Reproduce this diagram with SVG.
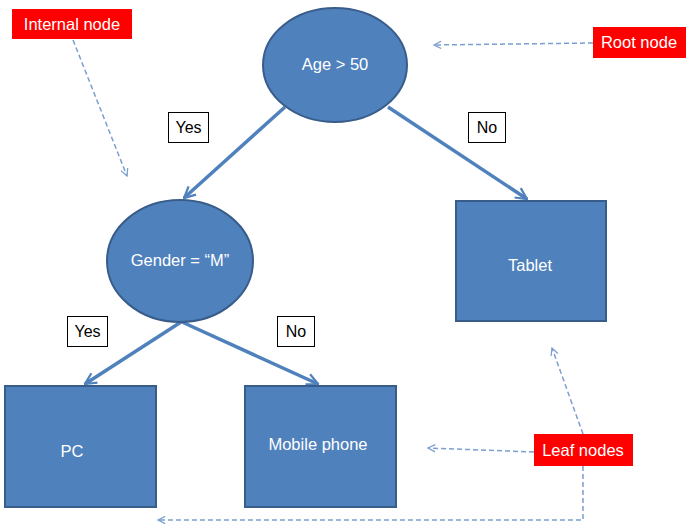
<svg xmlns="http://www.w3.org/2000/svg" width="689" height="528" viewBox="0 0 689 528">
<style>
.node{fill:#4f81bd;stroke:#385d8a;stroke-width:2}
.nt{font-family:"Liberation Sans",Arial,sans-serif;font-size:16.5px;fill:#ffffff;text-anchor:middle}
.lbl{fill:#ffffff;stroke:#000000;stroke-width:1}
.lt{font-family:"Liberation Sans",Arial,sans-serif;font-size:16px;fill:#000000;text-anchor:middle}
.red{fill:#ff0000}
.rt{font-family:"Liberation Sans",Arial,sans-serif;font-size:16.5px;fill:#ffffff;text-anchor:middle}
.edge{fill:none;stroke:#4f81bd;stroke-width:3.5}
.dash{fill:none;stroke:#7b9fcf;stroke-width:1.5;stroke-dasharray:5,3}
</style>
<defs>
<marker id="ah" viewBox="0 0 10 10" refX="9" refY="5" markerWidth="4" markerHeight="4" orient="auto" markerUnits="strokeWidth">
<path d="M1,1 L9,5 L1,9" fill="none" stroke="#4f81bd" stroke-width="1.6"/>
</marker>
<marker id="dh" viewBox="0 0 10 10" refX="9" refY="5" markerWidth="6" markerHeight="6" orient="auto" markerUnits="strokeWidth">
<path d="M1,1 L9,5 L1,9" fill="none" stroke="#7b9fcf" stroke-width="1.4"/>
</marker>
</defs>
<g id="connectors">
<line class="edge" x1="285" y1="107" x2="184" y2="198" marker-end="url(#ah)"/>
<line class="edge" x1="388" y1="107" x2="527" y2="199" marker-end="url(#ah)"/>
<line class="edge" x1="181" y1="322" x2="85" y2="384" marker-end="url(#ah)"/>
<line class="edge" x1="182" y1="322" x2="318" y2="384" marker-end="url(#ah)"/>
</g>
<g id="root"><ellipse class="node" cx="335" cy="65" rx="72" ry="57"/><text class="nt" x="335" y="70">Age &gt; 50</text></g>
<g id="gender"><ellipse class="node" cx="180" cy="261" rx="73" ry="61"/><text class="nt" x="180" y="266">Gender = “M”</text></g>
<g id="tablet"><rect class="node" x="456" y="201" width="150" height="120"/><text class="nt" x="530" y="271">Tablet</text></g>
<g id="pc"><rect class="node" x="5" y="386" width="151" height="121"/><text class="nt" x="72" y="457">PC</text></g>
<g id="mobile"><rect class="node" x="245" y="386" width="151" height="121"/><text class="nt" x="318" y="450">Mobile phone</text></g>
<g id="yes1"><rect class="lbl" x="168.5" y="112.5" width="40" height="30"/><text class="lt" x="188.5" y="133">Yes</text></g>
<g id="no1"><rect class="lbl" x="468.5" y="112.5" width="37" height="30"/><text class="lt" x="487" y="133">No</text></g>
<g id="yes2"><rect class="lbl" x="67.5" y="316.5" width="40" height="30"/><text class="lt" x="87.5" y="337">Yes</text></g>
<g id="no2"><rect class="lbl" x="277.5" y="316.5" width="37" height="30"/><text class="lt" x="296" y="337">No</text></g>
<g id="internal-label"><rect class="red" x="12" y="9" width="120" height="30"/><text class="rt" x="72" y="30">Internal node</text></g>
<g id="root-label"><rect class="red" x="593" y="27" width="93" height="31"/><text class="rt" x="639" y="48">Root node</text></g>
<g id="leaf-label"><rect class="red" x="534" y="434" width="99" height="32"/><text class="rt" x="583" y="456">Leaf nodes</text></g>
<g id="annotations">
<line class="dash" x1="73" y1="40" x2="127" y2="176" marker-end="url(#dh)"/>
<line class="dash" x1="593" y1="43" x2="434" y2="45" marker-end="url(#dh)"/>
<line class="dash" x1="583" y1="434" x2="552" y2="348" marker-end="url(#dh)"/>
<line class="dash" x1="534" y1="452" x2="428" y2="448" marker-end="url(#dh)"/>
<polyline class="dash" points="583,466 583,520 158,520" marker-end="url(#dh)"/>
</g>
</svg>
